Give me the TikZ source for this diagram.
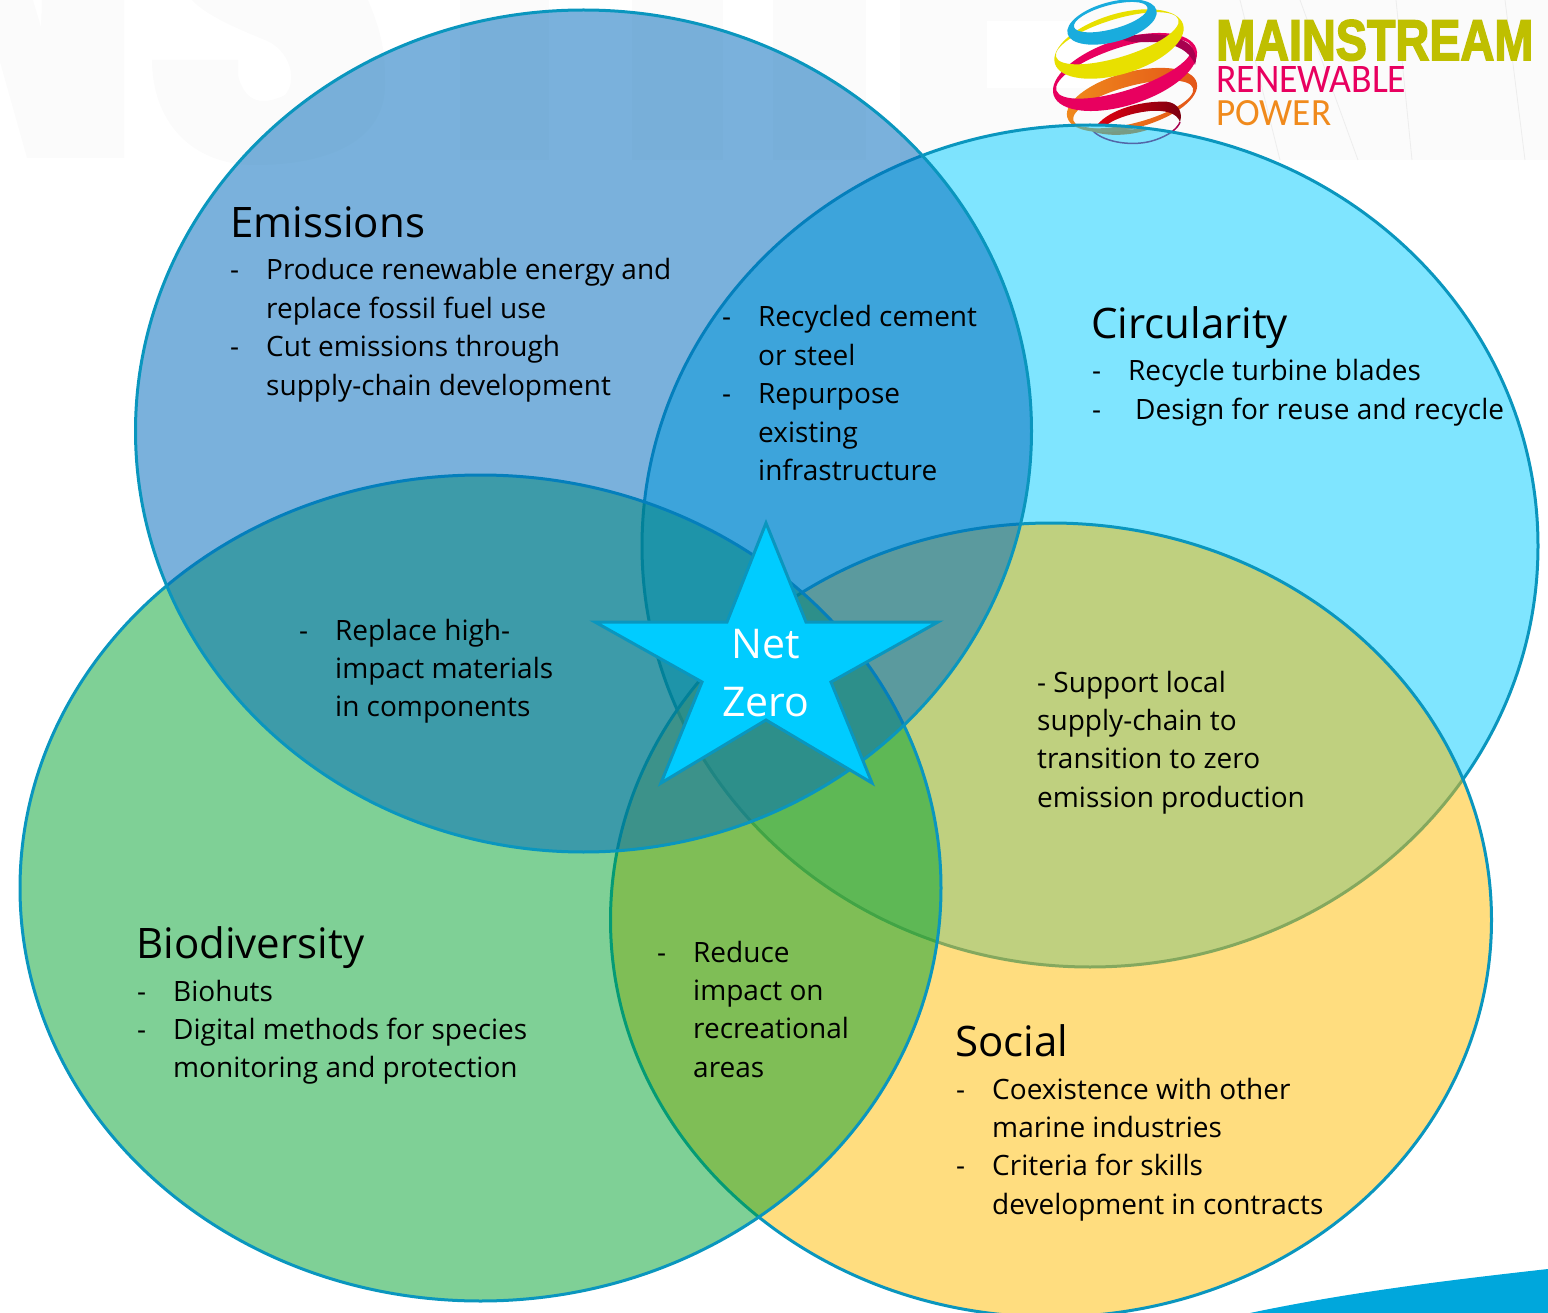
\documentclass[tikz,border=0pt]{standalone}
\usepackage{fontspec}
\usepackage{graphicx}
\setmainfont{Open Sans}
\newfontfamily\logobold[UprightFont=* Bold,FakeBold=3]{Liberation Sans}
\newfontfamily\logolight{Carlito}
\definecolor{edgeblue}{HTML}{0A96BE}
\definecolor{emisfill}{HTML}{006ABB}
\definecolor{circfill}{HTML}{00CCFF}
\definecolor{biofill}{HTML}{00A12D}
\definecolor{socfill}{HTML}{FFBB00}
\definecolor{starfill}{HTML}{00CCFF}
\definecolor{wmark}{HTML}{FBFBFB}
\definecolor{wline}{HTML}{EDEDED}
\definecolor{cornerblue}{HTML}{00A7DC}
\definecolor{logoolive}{HTML}{BFBF00}
\definecolor{logopink}{HTML}{E8005F}
\definecolor{logodeep}{HTML}{A8004F}
\definecolor{logoorange}{HTML}{F08A1C}
\definecolor{logoband}{HTML}{F26A0A}
\definecolor{logoblue}{HTML}{19ACDD}
\definecolor{logoyellow}{HTML}{E8E000}
\definecolor{logored}{HTML}{E00010}
\definecolor{logomaroon}{HTML}{7A0010}
\newcommand\myhd{\fontsize{42}{50}\selectfont}
\newcommand\mydash[1]{\hbox{\makebox[36pt][l]{-}#1}}
\newcommand\mywide[2]{\hbox{\makebox[#1][l]{-}#2}}
\newcommand\myhang[1]{\hbox{\hskip36pt #1}}
\newcommand\myplain[1]{\hbox{#1}}
\newcommand\myblk[1]{\vtop{\baselineskip=38.4pt \lineskiplimit=-100pt #1}}
\tikzset{
  venn/.style={draw=edgeblue,line width=3pt,fill opacity=.5,draw opacity=1},
  emisvenn/.style={draw=edgeblue,line width=3pt,fill opacity=.52,draw opacity=1},
  head/.style={anchor=base west,inner sep=0pt,text=black,font=\myhd},
  body/.style={anchor=base west,inner sep=0pt,text=black,font=\fontsize{28}{38.4}\selectfont},
  startext/.style={anchor=base,inner sep=0pt,text=white,font=\fontsize{41}{58}\selectfont},
  ribbon/.style={even odd rule,fill=#1},
  logotext/.style={anchor=base west,inner sep=0pt}
}
\begin{document}
\begin{tikzpicture}[x=1pt,y=-1pt]
\useasboundingbox (0,0) rectangle (1548,1313);
\clip (0,0) rectangle (1548,1313);
% faint watermark
\fill[wmark] (0,62) -- (27,158) -- (124,158) -- (124,0) -- (42,0) -- (41,27) -- (33,0) -- (0,0) -- cycle;
\fill[wmark] (152,60) -- (238,60) -- (238,75) .. controls (245,105) and (265,105) .. (285,95)
  .. controls (298,80) and (290,50) .. (265,40) .. controls (240,30) and (205,15) .. (192,0)
  -- (368,0) .. controls (385,40) and (385,60) .. (385,85) .. controls (385,140) and (330,165) .. (255,165)
  .. controls (190,165) and (152,120) .. (152,60) -- cycle;
\fill[wmark] (460,0) rectangle (549,160);
\fill[wmark] (632,0) rectangle (723,160);
\fill[wmark] (773,0) rectangle (866,160);
\fill[wmark] (900,0) rectangle (1548,160);
\fill[white] (987,21) rectangle (1100,88);
\draw[wline,line width=.8pt] (1300,0) -- (1358,160) (1396,0) -- (1412,160) (1505,0) -- (1525,160) (1240,0) -- (1280,160);
% logo
\begin{scope}
\draw[logodeep,line width=1.5pt] (1093,131) .. controls (1105,143) and (1135,147) .. (1155,140) .. controls (1170,135) and (1178,128) .. (1180,122);
\fill[logoband] (1083.3,126.7) .. controls (1097,136.7) and (1127,138) .. (1153,128) .. controls (1127,130) and (1103,131) .. (1083.3,126.7) -- cycle;
\shade[even odd rule,left color=logoorange,right color=logoband!80!logodeep,rotate around={15:(1132,100)}] (1132,100) ellipse [x radius=67,y radius=28] (1132,104.5) ellipse [x radius=62,y radius=18.5];
\shade[left color=logored,right color=logomaroon] (1098,124) .. controls (1110,110) and (1140,100.7) .. (1166.7,101.7) .. controls (1178,103) and (1183,112) .. (1180,122) .. controls (1176.7,112) and (1163,110) .. (1150,111) .. controls (1133,112.7) and (1116.7,118) .. (1108,124) -- cycle;
\fill[ribbon=logopink,rotate around={18:(1125,72)}] (1125,72) ellipse [x radius=75,y radius=33] (1125,68.5) ellipse [x radius=71,y radius=21.5];
\fill[logodeep] (1120,38.3) .. controls (1140,32) and (1175,32) .. (1190,45) .. controls (1196,52) and (1197,60) .. (1195,65) .. controls (1190,50) and (1173,42) .. (1150,42) .. controls (1137,42) and (1127,43) .. (1120,38.3) -- cycle;
\fill[ribbon=logoyellow,rotate around={17:(1119,44)}] (1119,44) ellipse [x radius=67,y radius=30] (1119,38) ellipse [x radius=64,y radius=19];
\fill[ribbon=logoblue,rotate around={15:(1112,22)}] (1112,22) ellipse [x radius=46,y radius=20] (1112,17) ellipse [x radius=38,y radius=12];
\end{scope}
\node[logotext,text=logoolive] (logoa) at (1216,60) {\resizebox{317pt}{40pt}{\logobold MAINSTREAM}};
\node[logotext,text=logopink] (logob) at (1216,93) {\resizebox{190pt}{26pt}{\logolight RENEWABLE}};
\node[logotext,text=logoorange] (logoc) at (1216,126) {\resizebox{115pt}{25pt}{\logolight POWER}};
% corner swoosh
\fill[cornerblue] (1250,1313) .. controls (1350,1292) and (1450,1280) .. (1548,1269) -- (1548,1313) -- cycle;
% venn ellipses
\path[venn,fill=circfill] (1090,546) ellipse [x radius=448,y radius=421];
\path[venn,fill=socfill] (1051,920) ellipse [x radius=440.5,y radius=397];
\path[venn,fill=biofill] (480.5,888) ellipse [x radius=460.5,y radius=413];
\path[emisvenn,fill=emisfill] (583.5,431) ellipse [x radius=448,y radius=421];
% star
\draw[edgeblue,line width=3pt,fill=starfill,line join=miter] (766,523) -- (806,622) -- (938,622) -- (831,682) -- (872,783) -- (766,720) -- (661,783) -- (702,682) -- (595,622) -- (727,622) -- cycle;
\node[startext] (net) at (766,658) {Net};
\node[startext] (zero) at (766,716) {Zero};
% texts
\node[head] (emh) at (230,238) {Emissions};
\node[body] (emb) at (230,280) {\myblk{\mydash{Produce renewable energy and}\myhang{replace fossil fuel use}\mydash{Cut emissions through}\myhang{supply-chain development}}};
\node[body] (ecb) at (722,327) {\myblk{\mydash{Recycled cement}\myhang{or steel}\mydash{Repurpose}\myhang{existing}\myhang{infrastructure}}};
\node[head] (cih) at (1091,339) {Circularity};
\node[body] (cib) at (1092,381) {\myblk{\mydash{Recycle turbine blades}\mywide{43pt}{Design for reuse and recycle}}};
\node[body] (ebb) at (299,640) {\myblk{\mydash{Replace high-}\myhang{impact materials}\myhang{in components}}};
\node[body] (csb) at (1037,692) {\myblk{\myplain{- Support local}\myplain{supply-chain to}\myplain{transition to zero}\myplain{emission production}}};
\node[head] (bih) at (136,958) {Biodiversity};
\node[body] (bib) at (137,1001) {\myblk{\mydash{Biohuts}\mydash{Digital methods for species}\myhang{monitoring and protection}}};
\node[body] (bsb) at (657,962) {\myblk{\mydash{Reduce}\myhang{impact on}\myhang{recreational}\myhang{areas}}};
\node[head] (soh) at (955,1056) {Social};
\node[body] (sob) at (956,1099) {\myblk{\mydash{Coexistence with other}\myhang{marine industries}\mydash{Criteria for skills}\myhang{development in contracts}}};
\end{tikzpicture}
\end{document}
